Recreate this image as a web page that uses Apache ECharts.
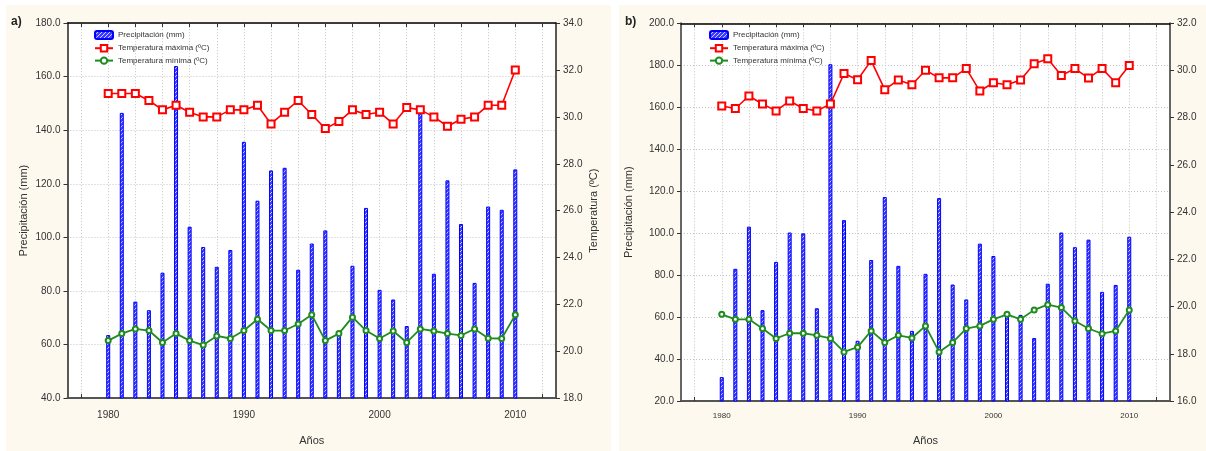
<!DOCTYPE html>
<html><head><meta charset="utf-8">
<script src="https://cdn.jsdelivr.net/npm/echarts@6/dist/echarts.min.js"></script>
<style>
html,body{margin:0;padding:0;background:#fff;width:1206px;height:451px;overflow:hidden;}
#bgL{position:absolute;left:6px;top:5px;width:605px;height:446px;background:#fdf9ee;}
#bgR{position:absolute;left:619px;top:5px;width:587px;height:446px;background:#fdf9ee;}
#chart{position:absolute;left:0;top:0;width:1206px;height:451px;}
</style></head><body>
<div id="bgL"></div><div id="bgR"></div><div id="chart"></div>
<script>
// ---- data ----
const years = [1980,1981,1982,1983,1984,1985,1986,1987,1988,1989,1990,1991,1992,1993,1994,1995,1996,1997,1998,1999,2000,2001,2002,2003,2004,2005,2006,2007,2008,2009,2010];
const precipA = [63.5,146.5,76,72.8,86.8,164,104,96.4,89,95.3,135.7,113.7,125,126,87.9,97.7,102.6,64.5,89.4,111,80.4,76.8,66.9,147.5,86.4,121.3,105,83,111.5,110.3,125.4];
const tmaxA = [31.0,31.0,31.0,30.7,30.3,30.5,30.2,30.0,30.0,30.3,30.3,30.5,29.7,30.2,30.7,30.1,29.5,29.8,30.3,30.1,30.2,29.7,30.4,30.3,30.0,29.6,29.9,30.0,30.5,30.5,32.0];
const tminA = [20.45,20.75,20.95,20.88,20.37,20.75,20.45,20.26,20.65,20.54,20.88,21.36,20.88,20.88,21.16,21.55,20.45,20.75,21.45,20.88,20.54,20.86,20.37,20.95,20.86,20.75,20.67,20.95,20.55,20.54,21.55];
const precipB = [31.4,83,103.1,63.3,86.3,100.3,99.9,64.2,180.5,106.2,48.7,87.2,117.2,84.4,53.4,80.6,116.7,75.5,68.4,95,89.1,61.5,61,50,75.9,100.3,93.3,96.9,72,75.3,98.3];
const tmaxB = [28.5,28.39,28.92,28.58,28.29,28.71,28.39,28.29,28.58,29.87,29.61,30.42,29.19,29.6,29.4,30.01,29.69,29.69,30.08,29.13,29.48,29.4,29.6,30.29,30.5,29.79,30.08,29.68,30.08,29.48,30.21];
const tminB = [19.67,19.46,19.46,19.07,18.65,18.87,18.87,18.78,18.65,18.08,18.28,18.97,18.48,18.78,18.67,19.18,18.08,18.48,19.07,19.18,19.46,19.67,19.46,19.86,20.08,19.96,19.39,19.07,18.85,18.97,19.86];
const xTicks = [1978,1980,1982,1984,1986,1988,1990,1992,1994,1996,1998,2000,2002,2004,2006,2008,2010,2012];
const xLabels = [1980,1990,2000,2010];
const names = ['Precipitación (mm)','Temperatura máxima (ºC)','Temperatura mínima (ºC)'];
const axisNames = {x:'Años', yL:'Precipitación (mm)', yR:'Temperatura (ºC)'};
const panelLabels = ['a)','b)'];

// ---- style helpers ----
function hatch(){
  const c=document.createElement('canvas'); c.width=4; c.height=4;
  const g=c.getContext('2d');
  g.fillStyle='#3b3bff'; g.fillRect(0,0,4,4);
  g.strokeStyle='#d0d0ff'; g.lineWidth=1;
  g.beginPath(); g.moveTo(0,4); g.lineTo(4,0); g.stroke();
  return c;
}
const hatchColor = {image: hatch(), repeat:'repeat'};
const FONT = 'Liberation Sans, Arial, sans-serif';
const pair = (xs, ys) => xs.map((x,i)=>[x, ys[i]]);
const gridLine = {show:true, lineStyle:{type:[1,2], color:'#c4c4c4', width:1}};

const grids = [
  {left:67.5, top:23.2, width:488.5, height:381.3},
  {left:681, top:23.3, width:489, height:384}
];
const yLeft = [{min:40,max:180},{min:20,max:200}];
const yRight = [{min:18,max:34},{min:16,max:32}];
const xLabelSize = [10,8];
const xLabelMargin = [12,11];
const xNameGap = [37,34];
const axisColor = ['#222','#666'];

const xAxis=[], yAxis=[], series=[];
grids.forEach((g,i)=>{
  xAxis.push({
    gridIndex:i, type:'value', min:1977, max:2013, position:'bottom',
    axisLine:{show:true, onZero:false, lineStyle:{color:'#555', width:2}},
    axisTick:{show:true, inside:true, length:4, customValues:xTicks, lineStyle:{color:'#333'}},
    axisLabel:{customValues:xLabels, fontSize:xLabelSize[i], color:'#333', margin:xLabelMargin[i], fontFamily:FONT, formatter:v=>String(v)},
    splitLine:gridLine,
    name:axisNames.x, nameLocation:'middle', nameGap:xNameGap[i],
    nameTextStyle:{fontSize:11, color:'#333', fontFamily:FONT}
  });
  xAxis.push({
    gridIndex:i, type:'value', min:1977, max:2013, position:'top',
    axisLine:{show:true, onZero:false, lineStyle:{color:'#000', width:1.5}},
    axisTick:{show:true, inside:true, length:4, customValues:xTicks, lineStyle:{color:'#333'}},
    axisLabel:{show:false}, splitLine:{show:false}
  });
  yAxis.push({
    gridIndex:i, type:'value', min:yLeft[i].min, max:yLeft[i].max, interval:20, position:'left',
    axisLine:{show:true, onZero:false, lineStyle:{color:axisColor[i], width:i?2:1.5}},
    axisTick:{show:true, inside:false, length:4, lineStyle:{color:'#333'}},
    axisLabel:{fontSize:10, color:'#333', margin:7, fontFamily:FONT, formatter:v=>v.toFixed(1)},
    splitLine:gridLine,
    name:axisNames.yL, nameLocation:'middle', nameRotate:90, nameGap:i?47:38,
    nameTextStyle:{fontSize:11, color:'#333', fontFamily:FONT}
  });
  yAxis.push({
    gridIndex:i, type:'value', min:yRight[i].min, max:yRight[i].max, interval:2, position:'right',
    axisLine:{show:true, onZero:false, lineStyle:{color:axisColor[i], width:i?2:1.5}},
    axisTick:{show:true, inside:false, length:4, lineStyle:{color:'#333'}},
    axisLabel:{fontSize:10, color:'#333', margin:7, fontFamily:FONT, formatter:v=>v.toFixed(1)},
    splitLine:{show:false},
    name: i ? '' : axisNames.yR, nameLocation:'middle', nameRotate:90, nameGap:32,
    nameTextStyle:{fontSize:11, color:'#333', fontFamily:FONT}
  });
});

const sets = [[precipA,tmaxA,tminA],[precipB,tmaxB,tminB]];
sets.forEach((s,i)=>{
  series.push({
    name:names[0], type:'bar', xAxisIndex:2*i, yAxisIndex:2*i,
    data:pair(years,s[0]), barWidth:4,
    itemStyle:{color:hatchColor, borderColor:'#0000ff', borderWidth:1},
    animation:false
  });
  series.push({
    name:names[1], type:'line', xAxisIndex:2*i, yAxisIndex:2*i+1,
    data:pair(years,s[1]), symbol:'emptyRect', symbolSize:7,
    lineStyle:{color:'#ff0000', width:1.6},
    itemStyle:{color:'#ff0000', borderWidth:1.2},
    animation:false, z:3
  });
  series.push({
    name:names[2], type:'line', xAxisIndex:2*i, yAxisIndex:2*i+1,
    data:pair(years,s[2]), symbol:'emptyCircle', symbolSize:5,
    lineStyle:{color:'#1e8c1e', width:1.8},
    itemStyle:{color:'#1e8c1e', borderWidth:1.2},
    animation:false, z:3
  });
});

const legendBase = {orient:'vertical', top:25, itemWidth:18, itemHeight:8, itemGap:4,
  textStyle:{fontSize:8, color:'#333', fontFamily:FONT}, data:names, selectedMode:false};

const option = {
  animation:false,
  textStyle:{fontFamily:FONT},
  title:[
    {text:panelLabels[0], left:11, top:16, padding:0, textStyle:{fontSize:12, fontWeight:'bold', color:'#222', fontFamily:FONT}},
    {text:panelLabels[1], left:625, top:16, padding:0, textStyle:{fontSize:12, fontWeight:'bold', color:'#222', fontFamily:FONT}}
  ],
  legend:[Object.assign({left:89}, legendBase), Object.assign({left:704}, legendBase)],
  grid: grids.map(g=>Object.assign({show:true, backgroundColor:'#fff', borderWidth:0, containLabel:false}, g)),
  xAxis, yAxis, series
};
const chart = echarts.init(document.getElementById('chart'), null, {renderer:'canvas'});
chart.setOption(option);
</script>
</body></html>
